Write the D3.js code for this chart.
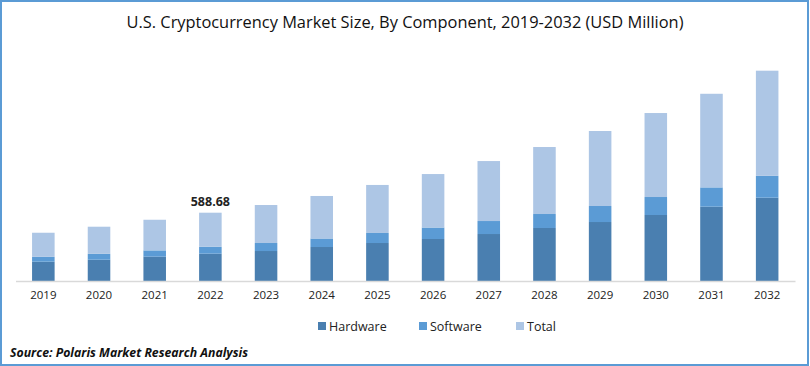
<!DOCTYPE html>
<html>
<head>
<meta charset="utf-8">
<script src="https://cdn.jsdelivr.net/npm/d3@7"></script>
<style>
  html, body { margin: 0; padding: 0; background: #fff; }
  svg { display: block; }
</style>
</head>
<body>
<svg id="chart" width="810" height="366"></svg>
<script>
const years = ["2019","2020","2021","2022","2023","2024","2025","2026","2027","2028","2029","2030","2031","2032"];
const hardware = [333, 367, 419, 471, 517, 586, 655, 724, 810, 914, 1017, 1138, 1281, 1436];
const software = [83, 101, 109, 118, 138, 147, 173, 198, 224, 241, 276, 310, 333, 377];
const total = [416, 468, 528, 588.68, 655, 733, 828, 922, 1034, 1155, 1293, 1448, 1614, 1813];
const seriesNames = ["Hardware", "Software", "Total"];
const colors = ["#4a7fb0", "#5b9bd5", "#adc6e5"];
const labelYear = "2022";
const labelText = "588.68";
const titleText = "U.S. Cryptocurrency Market Size, By Component, 2019-2032 (USD Million)";
const sourceText = "Source: Polaris  Market Research Analysis";

const svg = d3.select("#chart");
const W = 810, H = 366;
const font = "'Open Sans', 'Noto Sans', sans-serif";

svg.append("rect").attr("x", 0).attr("y", 0).attr("width", W).attr("height", H).attr("fill", "#fff");

const x = d3.scaleBand().domain(years).range([15.5, 795]).paddingInner(0.595).paddingOuter(0.2975);
const y = d3.scaleLinear().domain([0, 4000]).range([281, 281 - 232]);

const rows = years.map((yr, i) => ({ year: yr, Hardware: hardware[i], Software: software[i], Total: total[i] }));
const stack = d3.stack().keys(seriesNames)(rows);

svg.append("g").selectAll("g").data(stack).join("g")
  .attr("fill", (d, i) => colors[i])
  .selectAll("rect").data(d => d).join("rect")
  .attr("x", d => x(d.data.year))
  .attr("width", x.bandwidth())
  .attr("y", d => y(d[1]))
  .attr("height", d => y(d[0]) - y(d[1]));

// x axis
const xAxis = svg.append("g").attr("transform", "translate(0,281)")
  .call(d3.axisBottom(x).tickSize(0).tickPadding(10));
xAxis.select(".domain").attr("stroke", "#d9d9d9").attr("stroke-width", 1.5);
xAxis.selectAll("text").attr("font-family", font).attr("font-size", 11.5).attr("fill", "#222");

// data label
const li = years.indexOf(labelYear);
svg.append("text")
  .attr("x", x(labelYear) + x.bandwidth() / 2)
  .attr("y", y(hardware[li] + software[li] + total[li]) - 7)
  .attr("text-anchor", "middle")
  .attr("font-family", font).attr("font-weight", "bold").attr("font-size", 12.5).attr("fill", "#222")
  .text(labelText);

// title
svg.append("text")
  .attr("x", 405).attr("y", 28)
  .attr("text-anchor", "middle")
  .attr("font-family", font).attr("font-size", 15.5).attr("fill", "#111")
  .attr("textLength", 557).attr("lengthAdjust", "spacingAndGlyphs")
  .text(titleText);

// legend
const legendX = [318, 419, 516];
const lg = svg.append("g");
seriesNames.forEach((n, i) => {
  lg.append("rect").attr("x", legendX[i]).attr("y", 322).attr("width", 8).attr("height", 8).attr("fill", colors[i]);
  lg.append("text").attr("x", legendX[i] + 11).attr("y", 330.5)
    .attr("font-family", font).attr("font-size", 12.5).attr("fill", "#222").text(n);
});

// source
svg.append("text")
  .attr("x", 10).attr("y", 357)
  .attr("font-family", font).attr("font-size", 11.5).attr("font-weight", "bold").attr("font-style", "italic").attr("fill", "#111")
  .attr("textLength", 238).attr("lengthAdjust", "spacingAndGlyphs")
  .text(sourceText);

// border
svg.append("rect").attr("x", 1).attr("y", 1).attr("width", 807).attr("height", 364)
  .attr("fill", "none").attr("stroke", "#5b9bd5").attr("stroke-width", 2);
</script>
</body>
</html>
